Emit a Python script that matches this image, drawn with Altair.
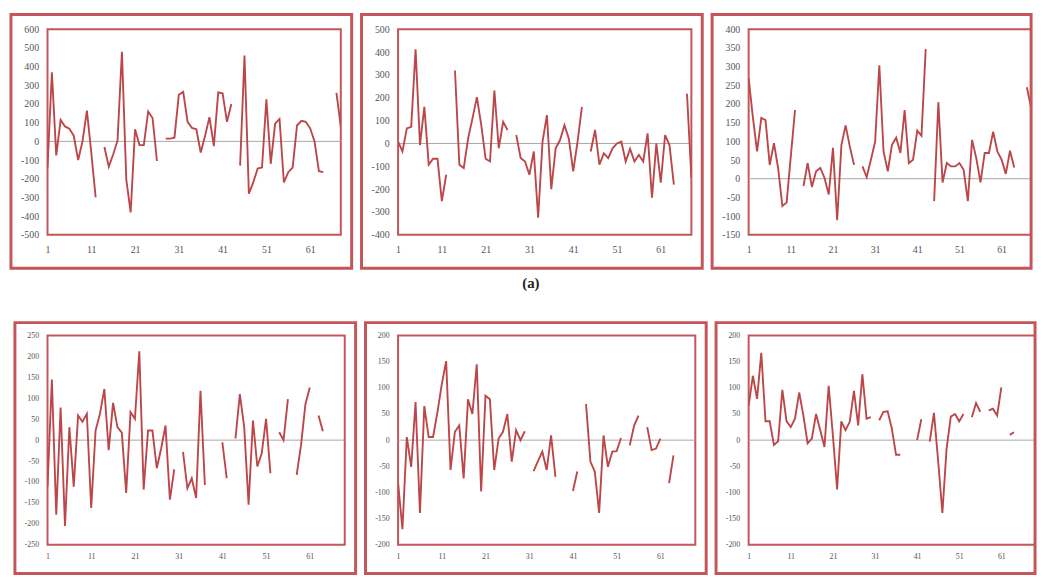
import altair as alt
import pandas as pd

# ---------------- data ----------------
x_ticks = [1, 11, 21, 31, 41, 51, 61]
n_top = 68
n_bottom = 69

p1 = [-140, 370, -75, 115, 80, 68, 30, -100, 0, 165,
      -60, -300, None, -30, -135, -70, 5, 480, -205, -380,
      65, -20, -20, 160, 125, -105, None, 15, 15, 20,
      250, 265, 105, 72, 65, -60, 30, 130, -25, 262,
      258, 105, 200, None, -130, 460, -280, -220, -145, -140,
      225, -120, 95, 120, -220, -165, -140, 85, 110, 105,
      70, 0, -160, -165, None, None, 260, 80]

p2 = [8, -35, 66, 73, 413, -7, 160, -93, -67, -67,
      -253, -137, None, 320, -93, -108, 22, 110, 203, 80,
      -67, -79, 232, -21, 95, 59, None, 37, -64, -79,
      -137, -35, -325, 8, 124, -200, -21, 15, 80, 22,
      -122, 8, 160, None, -35, 59, -93, -43, -64, -21,
      0, 8, -79, -24, -79, -50, -79, 44, -238, 0,
      -172, 37, -7, -180, None, None, 218, -150]

p3 = [269, 165, 73, 163, 157, 37, 95, 28, -73, -64,
      60, 184, None, -20, 42, -22, 20, 29, 2, -42,
      83, -111, 90, 143, 86, 37, None, 33, 4, 51,
      99, 304, 73, 20, 91, 110, 69, 184, 42, 51,
      129, 115, 347, None, -60, 205, -10, 42, 33, 33,
      42, 24, -60, 104, 55, -10, 69, 69, 126, 73,
      51, 13, 75, 30, None, None, 245, 190]

p4 = [-111, 145, -178, 78, -205, 31, -111, 59, 44, 63,
      -162, 23, 63, 122, -24, 89, 31, 18, -126, 67,
      51, 212, -118, 23, 23, -67, -20, 35, -142, -70,
      None, -28, -115, -91, -138, 118, -107, None, None, None,
      -5, -91, None, 4, 110, 31, -154, 47, -63, -32,
      51, -79, None, 19, 0, 98, None, -83, -12, 86,
      126, None, 59, 21, None, None, None, None, None]

p5 = [-82, -170, 6, -51, 73, -139, 65, 6, 6, 53,
      107, 151, -57, 16, 28, -73, 78, 50, 145, -98,
      85, 78, -57, 3, 16, 50, -41, 19, 0, 17,
      None, -59, -40, -22, -57, 9, -70, None, None, None,
      -97, -60, None, 69, -41, -60, -139, 9, -51, -22,
      -21, 4, None, -10, 28, 47, None, 25, -19, -16,
      3, None, -82, -29, None, None, None, None, None]

p6 = [66, 123, 79, 167, 36, 36, -9, -2, 96, 36,
      25, 41, 91, 47, -6, 3, 50, 19, -13, 104,
      9, -94, 36, 19, 35, 94, 28, 126, 41, 44,
      None, 38, 54, 55, 22, -28, -28, None, None, None,
      0, 40, None, -3, 52, -40, -139, -16, 45, 50,
      36, 50, None, 44, 71, 54, None, 57, 60, 47,
      101, None, 10, 15, None, None, None, None, None]

caption = "(a)"

# ---------------- styling ----------------
LINE = "#BC4649"
FRAME = "#C4565A"
LABEL = "#555555"
FONT = "Liberation Serif"


def to_frame(values):
    rows = []
    seg = 0
    for i, v in enumerate(values, start=1):
        if v is None:
            seg += 1
            continue
        rows.append({"x": i, "y": v, "seg": seg})
    return pd.DataFrame(rows)


def panel(values, n, ymin, ymax, ystep, W, H, left, right, top, bottom,
          fsize, xpad, ypad):
    df = to_frame(values)
    yvals = list(range(ymin, ymax + 1, ystep))
    yaxis = alt.Axis(values=yvals, title=None, ticks=False, domain=False,
                     grid=False, labelFont=FONT, labelFontSize=fsize,
                     labelColor=LABEL, labelPadding=ypad,
                     labelExpr="'' + datum.value",
                     labelFlush=False, labelOverlap=False, labelBound=False)
    yscale = alt.Scale(domain=[ymin, ymax], nice=False, zero=False)
    line = alt.Chart(df).mark_line(color=LINE, strokeWidth=1.9, clip=True).encode(
        x=alt.X("x:Q",
                scale=alt.Scale(domain=[1, n], nice=False, zero=False),
                axis=alt.Axis(values=x_ticks, title=None, ticks=False, domain=False,
                              grid=False, labelFont=FONT, labelFontSize=fsize,
                              labelColor=LABEL, labelPadding=xpad,
                              labelFlush=False, labelOverlap=False)),
        y=alt.Y("y:Q", scale=yscale, axis=yaxis),
        detail="seg:N",
    )
    zero = alt.Chart(alt.Data(values=[{}])).mark_rule(
        color="#A8A8A8", strokeWidth=1).encode(
        y=alt.Y(datum=0, scale=yscale, axis=yaxis))
    frame = alt.Chart(alt.Data(values=[{}])).mark_rect(
        fill="white", fillOpacity=0, stroke=FRAME, strokeWidth=3).encode(
        x=alt.value(-left), x2=alt.value(W + right),
        y=alt.value(-top), y2=alt.value(H + bottom))
    return alt.layer(zero, line, frame).properties(width=W, height=H)


top_row = alt.hconcat(
    panel(p1, n_top, -500, 600, 100, 297, 208, 37, 11, 15, 34, 10, 10, 9),
    panel(p2, n_top, -400, 500, 100, 297, 208, 37, 11, 15, 34, 10, 10, 9),
    panel(p3, n_top, -150, 400, 50, 286, 208, 37, 0, 15, 34, 10, 10, 9),
    spacing=4,
)

bottom_row = alt.hconcat(
    panel(p4, n_bottom, -250, 250, 50, 301, 212, 33, 11, 13, 29, 8, 8, 9),
    panel(p5, n_bottom, -200, 200, 50, 301, 212, 33, 11, 13, 29, 8, 8, 9),
    panel(p6, n_bottom, -200, 200, 50, 290, 212, 33, 0, 13, 29, 8, 8, 9),
    spacing=4,
).properties(
    title=alt.TitleParams(caption, fontSize=15, font=FONT, fontWeight="bold",
                          color="#222222", anchor="middle", offset=30, dx=6)
)

chart = alt.vconcat(top_row, bottom_row, spacing=4).properties(
    padding=0, background="white"
).configure_view(stroke=FRAME, strokeWidth=2).configure_axis(labelOverlap=False)

chart.save("out.html", embed_options={"renderer": "svg", "actions": False})
